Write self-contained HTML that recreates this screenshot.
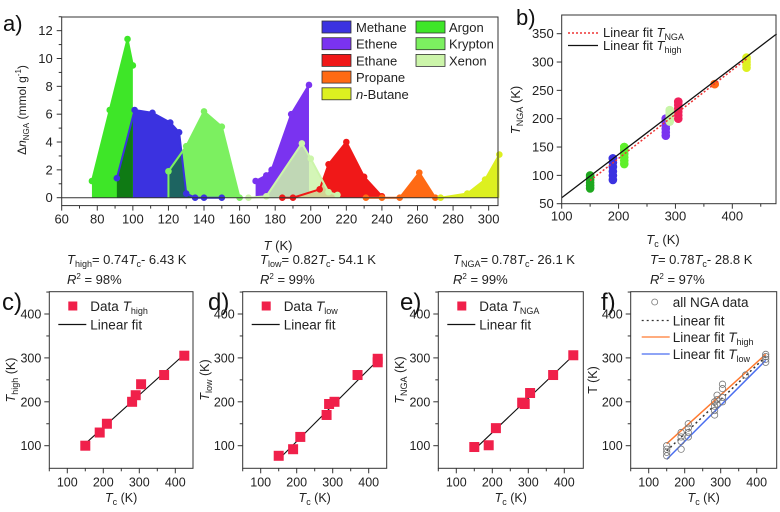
<!DOCTYPE html>
<html><head><meta charset="utf-8">
<style>
html,body{margin:0;padding:0;background:#fff;}
svg{display:block;font-family:"Liberation Sans",Arial,sans-serif;}
.tk{font-size:13px;fill:#222;}
.tks{font-size:12.5px;fill:#222;}
</style></head>
<body>
<svg id="fig" width="780" height="512" viewBox="0 0 780 512" xmlns="http://www.w3.org/2000/svg">
<defs id="defs"></defs>
<g id="pa"></g>
<g id="pb"></g>
<g id="pc"></g>
<g id="pd"></g>
<g id="pe"></g>
<g id="pf"></g>
</svg>
<script>
// ---------- Panel a data ----------
const gasNames = ["Methane","Ethene","Ethane","Propane","n-Butane","Argon","Krypton","Xenon"];
const gasColors = ["#3b32e0","#7a33f0","#f01818","#ff6a14","#ddf020","#3ee628","#7cf060","#ccf5aa"];
const argonT = [77,87,97,100];
const argonV = [1.2,6.3,11.4,9.5];
const methaneT = [91,101,111,121,126,130,135,140,150];
const methaneV = [1.4,6.3,6.1,5.4,4.7,0.3,0,0,0];
const kryptonT = [120,130,140,150,160];
const kryptonV = [1.9,3.7,6.2,5.1,0];
const etheneT = [169,175,178,189,199];
const etheneV = [1.2,1.6,2.0,6.0,8.1];
const xenonT = [165,175,195,200,210,215];
const xenonV = [0,0.1,3.9,2.8,0.4,0.2];
const ethaneT = [184,190,205,210,220,230,240];
const ethaneV = [0,0,0.6,2.4,4.0,1.5,0.1];
const propaneT = [231,240,250,261,270];
const propaneV = [0,0,0,1.8,0];
const butaneT = [273,288,298,306];
const butaneV = [0,0.3,1.3,3.1];
const aXTicks = [60,80,100,120,140,160,180,200,220,240,260,280,300];
const aYTicks = [0,2,4,6,8,10,12];

// ---------- Panel b data ----------
const bTc = [150,190,210,283,290,305,369,425];
const bLow = [77,92,120,170,195,200,261,290];
const bHigh = [100,130,150,200,215,230,261,308];
const bColors = ["#1fa81f","#3b32e0","#5ef02a","#7a33f0","#c8f5a8","#f0205a","#ff6a14","#ddf020"];
const bXTicks = [100,200,300,400];
const bYTicks = [50,100,150,200,250,300,350];

// ---------- Panels c-f data ----------
const cTc = [150,190,210,280,290,305,369,425];
const cVal = [100,130,150,200,215,240,261,305];
const dTc = [150,190,210,283,290,305,369,425,425];
const dVal = [77,92,120,170,195,200,261,290,298];
const eTc = [150,190,210,283,290,305,369,425];
const eVal = [97,101,140,198,195,220,261,306];
const fTc = [150,150,150,150,190,190,190,190,210,210,210,210,283,283,283,283,290,290,290,305,305,305,305,369,425,425,425,425];
const fVal = [77,85,92,100,92,110,120,130,120,130,140,150,170,180,190,200,195,205,215,200,210,230,240,261,290,297,303,308];
const smallTicks = [100,200,300,400];

const NS="http://www.w3.org/2000/svg";
function mk(parent,tag,attrs,text){
  const e=document.createElementNS(NS,tag);
  for(const k in attrs) e.setAttribute(k,attrs[k]);
  if(text!==undefined) e.textContent=text;
  parent.appendChild(e); return e;
}

// ================= PANEL A =================
(function(){
  const g=document.getElementById('pa');
  const defs=document.getElementById('defs');
  const L=61.7,R=498,T=17,B=205.6;
  const xs=t=>L+(t-60)*1.779;
  const ys=v=>197.7-v*13.92;
  const lab=mk(g,'text',{x:3,y:31,'font-size':22,fill:'#111'},'a)');
  
  
  const groups=[
    [methaneT,methaneV,0],[kryptonT,kryptonV,6],[argonT,argonV,5],
    [etheneT,etheneV,1],[ethaneT,ethaneV,2],[xenonT,xenonV,7],
    [propaneT,propaneV,3],[butaneT,butaneV,4]
  ];
  const ids=['methane','krypton','argon','ethene','ethane','xenon','propane','butane'];
  const polyPts=(tt,vv)=>`${xs(tt[0])},${ys(0)} `+tt.map((t,j)=>`${xs(t)},${ys(vv[j])}`).join(' ')+` ${xs(tt[tt.length-1])},${ys(0)}`;
  groups.forEach((s,i)=>{
    const [tt,vv,ci]=s;
    const p=mk(g,'polygon',{points:polyPts(tt,vv),fill:gasColors[ci],'fill-opacity':ids[i]==='xenon'?0.85:1});
    
    
  });
  // overlap regions
  const cp1=mk(defs,'clipPath',{id:'clipMethane'});
  mk(cp1,'polygon',{points:polyPts(methaneT,methaneV)});
  const cp2=mk(defs,'clipPath',{id:'clipKrypton'});
  mk(cp2,'polygon',{points:polyPts(kryptonT,kryptonV)});
  const o1=mk(g,'polygon',{points:polyPts(argonT,argonV),fill:'#0f7a14','clip-path':'url(#clipMethane)'});
  
  
  const o2=mk(g,'polygon',{points:polyPts(methaneT,methaneV),fill:'#1d6461','clip-path':'url(#clipKrypton)'});
  
  
  groups.forEach((s,i)=>{
    const [tt,vv,ci]=s;
    const ln=mk(g,'polyline',{points:tt.map((t,j)=>`${xs(t)},${ys(vv[j])}`).join(' '),fill:'none',stroke:gasColors[ci],'stroke-width':2});
    
    
    tt.forEach((t,j)=>{
      const c=mk(g,'circle',{cx:xs(t),cy:ys(vv[j]),r:3.3,fill:gasColors[ci]});
      
      
    });
  });
  mk(g,'line',{x1:xs(120),x2:xs(120),y1:ys(0),y2:ys(1.9),stroke:gasColors[6],'stroke-width':2});
  mk(g,'line',{x1:L,x2:R,y1:ys(0),y2:ys(0),stroke:'#333','stroke-width':1});
  const fr=mk(g,'rect',{x:L,y:T,width:R-L,height:B-T,fill:'none',stroke:'#333','stroke-width':1});
  
  
  aXTicks.forEach(t=>{
    mk(g,'line',{x1:xs(t),x2:xs(t),y1:B,y2:B+5,stroke:'#333'});
    if(xs(t+10)<R) mk(g,'line',{x1:xs(t+10),x2:xs(t+10),y1:B,y2:B+3,stroke:'#333'});
    const tx=mk(g,'text',{x:xs(t),y:B+18,'text-anchor':'middle',class:'tk'},t);
    
    
  });
  aYTicks.forEach(v=>{
    mk(g,'line',{x1:L-5,x2:L,y1:ys(v),y2:ys(v),stroke:'#333'});
    mk(g,'line',{x1:L-3,x2:L,y1:ys(v+1),y2:ys(v+1),stroke:'#333'});
    const tx=mk(g,'text',{x:L-9,y:ys(v)+4.5,'text-anchor':'end',class:'tk'},v);
    
    
  });
  const xt=mk(g,'text',{x:278,y:250,'text-anchor':'middle',class:'tk'});
  xt.innerHTML='<tspan font-style="italic">T</tspan> (K)';
  
  
  const yt=mk(g,'text',{transform:'translate(26,110) rotate(-90)','text-anchor':'middle','font-size':12,fill:'#222'});
  yt.innerHTML='Δ<tspan font-style="italic">n</tspan><tspan font-size="8" dy="3">NGA</tspan><tspan dy="-3"> (mmol g</tspan><tspan font-size="8" dy="-5">-1</tspan><tspan dy="5">)</tspan>';
  
  
  const legOrder=[[0,322,356,0],[1,322,356,1],[2,322,356,2],[3,322,356,3],[4,322,356,4],[5,416,449,0],[6,416,449,1],[7,416,449,2]];
  legOrder.forEach(o=>{
    const [ci,bx,tx0,row]=o;
    const y=21+row*16.7;
    const r=mk(g,'rect',{x:bx,y:y,width:29,height:12,fill:gasColors[ci],stroke:'#333','stroke-width':0.8});
    
    
    const t=mk(g,'text',{x:tx0,y:y+11,class:'tk'});
    if(gasNames[ci]==='n-Butane') t.innerHTML='<tspan font-style="italic">n</tspan>-Butane'; else t.textContent=gasNames[ci];
    
    
  });
})();

// ================= PANEL B =================
(function(){
  const g=document.getElementById('pb');
  const L=561.7,R=776,T=15,B=203.7;
  const xs=t=>L+(t-100)*0.5687;
  const ys=v=>B-(v-50)*0.5667;
  const lab=mk(g,'text',{x:516,y:25,'font-size':22,fill:'#111'},'b)');
  
  
  bTc.forEach((tc,i)=>{
    for(let v=bLow[i]; v<=bHigh[i]+0.1; v+=Math.max(5,(bHigh[i]-bLow[i])/5||5)){
      const c=mk(g,'circle',{cx:xs(tc),cy:ys(v),r:4.3,fill:bColors[i]});
      
      
    }
    const c2=mk(g,'circle',{cx:xs(tc),cy:ys(bHigh[i]),r:4.3,fill:bColors[i]});
    
    
  });
  const fitH=t=>0.765*t-16;
  const l1=mk(g,'line',{x1:xs(100),y1:ys(fitH(100)),x2:xs(478),y2:ys(fitH(478)),stroke:'#111','stroke-width':1.3});
  
  
  const fitN=t=>0.78*t-26.1;
  const l2=mk(g,'line',{x1:xs(150),y1:ys(fitN(150)),x2:xs(425),y2:ys(fitN(425)),stroke:'#ee3333','stroke-width':1.5,'stroke-dasharray':'2,2'});
  
  
  const fr=mk(g,'rect',{x:L,y:T,width:R-L,height:B-T,fill:'none',stroke:'#333'});
  
  
  bXTicks.forEach(t=>{
    mk(g,'line',{x1:xs(t),x2:xs(t),y1:B,y2:B+5,stroke:'#333'});
    mk(g,'line',{x1:xs(t+50),x2:xs(t+50),y1:B,y2:B+3,stroke:'#333'});
    const tx=mk(g,'text',{x:xs(t),y:B+17,'text-anchor':'middle',class:'tk'},t);
    
    
  });
  bYTicks.forEach(v=>{
    mk(g,'line',{x1:L-5,x2:L,y1:ys(v),y2:ys(v),stroke:'#333'});
    const tx=mk(g,'text',{x:L-8,y:ys(v)+4.5,'text-anchor':'end',class:'tk'},v);
    
    
  });
  const xt=mk(g,'text',{x:663,y:244,'text-anchor':'middle',class:'tk'});
  xt.innerHTML='<tspan font-style="italic">T</tspan><tspan font-size="9" dy="3">c</tspan><tspan dy="-3"> (K)</tspan>';
  
  
  const yt=mk(g,'text',{transform:'translate(520,110) rotate(-90)','text-anchor':'middle',class:'tk'});
  yt.innerHTML='<tspan font-style="italic">T</tspan><tspan font-size="9" dy="3">NGA</tspan><tspan dy="-3"> (K)</tspan>';
  
  
  mk(g,'line',{x1:568,x2:598,y1:33,y2:33,stroke:'#ee3333','stroke-width':1.5,'stroke-dasharray':'2,2'});
  const t1=mk(g,'text',{x:603,y:37,class:'tk'});
  t1.innerHTML='Linear fit <tspan font-style="italic">T</tspan><tspan font-size="9" dy="3">NGA</tspan>';
  
  
  mk(g,'line',{x1:568,x2:598,y1:45.5,y2:45.5,stroke:'#111','stroke-width':1.3});
  const t2=mk(g,'text',{x:603,y:50,class:'tk'});
  t2.innerHTML='Linear fit <tspan font-style="italic">T</tspan><tspan font-size="9" dy="3">high</tspan>';
  
  
})();

// ================= PANELS C-F =================
function smallPanel(id,L,R,letter,letterX,eqX,eqHTML,r2,ylabHTML,ylabX,tcArr,valArr,fits,legend,circles){
  const g=document.getElementById(id);
  const T=291.7,B=468.3;
  const xs=t=>L+(t-50)*0.36;
  const ys=v=>445.7-(v-100)*0.439;
  const eq=mk(g,'text',{x:eqX,y:264,'font-size':13,fill:'#222'});
  eq.innerHTML=eqHTML;
  
  
  const r=mk(g,'text',{x:eqX,y:284,'font-size':13,fill:'#222'});
  r.innerHTML='<tspan font-style="italic">R</tspan><tspan font-size="8" dy="-5">2</tspan><tspan dy="5"> = '+r2+'</tspan>';
  
  
  const lb=mk(g,'text',{x:letterX,y:310,'font-size':24,fill:'#111'},letter+')');
  
  
  fits.forEach(f=>{
    const l=mk(g,'line',{x1:xs(150),y1:ys(f.a*150+f.b),x2:xs(425),y2:ys(f.a*425+f.b),stroke:f.c,'stroke-width':f.w||1.1,'stroke-dasharray':f.d||'none'});
    
    
  });
  tcArr.forEach((t,i)=>{
    if(circles){
      const c=mk(g,'circle',{cx:xs(t),cy:ys(valArr[i]),r:3.2,fill:'none',stroke:'#777','stroke-width':0.8});
      
      
    } else {
      const c=mk(g,'rect',{x:xs(t)-5,y:ys(valArr[i])-5,width:10,height:10,fill:'#f0204a'});
      
      
    }
  });
  const fr=mk(g,'rect',{x:L,y:T,width:R-L,height:B-T,fill:'none',stroke:'#333'});
  
  
  smallTicks.forEach(t=>{
    mk(g,'line',{x1:xs(t),x2:xs(t),y1:B,y2:B+5,stroke:'#333'});
    mk(g,'line',{x1:xs(t-50),x2:xs(t-50),y1:B,y2:B+3,stroke:'#333'});
    const tx=mk(g,'text',{x:xs(t),y:B+18,'text-anchor':'middle',class:'tks'},t);
    
    
    mk(g,'line',{x1:L-5,x2:L,y1:ys(t),y2:ys(t),stroke:'#333'});
    mk(g,'line',{x1:L-3,x2:L,y1:ys(t+50),y2:ys(t+50),stroke:'#333'});
    const ty=mk(g,'text',{x:L-8,y:ys(t)+4.5,'text-anchor':'end',class:'tks'},t);
    
    
  });
  const xt=mk(g,'text',{x:(L+R)/2,y:502,'text-anchor':'middle',class:'tks'});
  xt.innerHTML='<tspan font-style="italic">T</tspan><tspan font-size="9" dy="3">c</tspan><tspan dy="-3"> (K)</tspan>';
  
  
  const yt=mk(g,'text',{transform:`translate(${ylabX},380) rotate(-90)`,'text-anchor':'middle',class:'tks'});
  yt.innerHTML=ylabHTML;
  
  
  legend.forEach((it,i)=>{
    const y=[306,324.5,341,358][i]+(circles?-4:0);
    const lx0=L+(circles?11:9);
    if(it.type==='sq'){ mk(g,'rect',{x:L+19,y:y-4.5,width:9,height:9,fill:'#f0204a'}); }
    else if(it.type==='circ'){ mk(g,'circle',{cx:L+24,cy:y,r:3,fill:'none',stroke:'#777','stroke-width':0.8}); }
    else { mk(g,'line',{x1:lx0,x2:lx0+28,y1:y,y2:y,stroke:it.c,'stroke-width':1.3,'stroke-dasharray':it.d||'none'}); }
    const tx=mk(g,'text',{x:L+(circles?42:41),y:y+5,'font-size':13.5,fill:'#222'});
    tx.innerHTML=it.t;
    
    
  });
}
const TS=(s)=>'<tspan font-style="italic">T</tspan><tspan font-size="9" dy="3">'+s+'</tspan><tspan dy="-3">';
smallPanel('pc',49.3,193,'c',2,67,TS('high')+'= 0.74</tspan><tspan font-style="italic">T</tspan><tspan font-size="9" dy="3">c</tspan><tspan dy="-3">- 6.43 K</tspan>','98%',TS('high')+' (K)</tspan>',15,cTc,cVal,[{a:0.74,b:-6.43,c:'#111'}],[{type:'sq',t:'Data <tspan font-style="italic">T</tspan><tspan font-size="9" dy="3">high</tspan>'},{type:'line',c:'#111',t:'Linear fit'}],false);
smallPanel('pd',242.7,386.7,'d',208,260,TS('low')+'= 0.82</tspan><tspan font-style="italic">T</tspan><tspan font-size="9" dy="3">c</tspan><tspan dy="-3">- 54.1 K</tspan>','99%',TS('low')+' (K)</tspan>',209,dTc,dVal,[{a:0.82,b:-54.1,c:'#111'}],[{type:'sq',t:'Data <tspan font-style="italic">T</tspan><tspan font-size="9" dy="3">low</tspan>'},{type:'line',c:'#111',t:'Linear fit'}],false);
smallPanel('pe',438.3,583.3,'e',400,453,TS('NGA')+'= 0.78</tspan><tspan font-style="italic">T</tspan><tspan font-size="9" dy="3">c</tspan><tspan dy="-3">- 26.1 K</tspan>','99%',TS('NGA')+' (K)</tspan>',404,eTc,eVal,[{a:0.78,b:-26.1,c:'#111'}],[{type:'sq',t:'Data <tspan font-style="italic">T</tspan><tspan font-size="9" dy="3">NGA</tspan>'},{type:'line',c:'#111',t:'Linear fit'}],false);
smallPanel('pf',630.7,776.7,'f',601,650,'<tspan font-style="italic">T</tspan><tspan>= 0.78</tspan><tspan font-style="italic">T</tspan><tspan font-size="9" dy="3">c</tspan><tspan dy="-3">- 28.8 K</tspan>','97%','<tspan>T (K)</tspan>',597,fTc,fVal,[{a:0.74,b:-6.43,c:'#ff7a30',w:1.5},{a:0.82,b:-54.1,c:'#4a6ef0',w:1.5},{a:0.78,b:-28.8,c:'#333',d:'2,3',w:1.5}],[{type:'circ',t:'all NGA data'},{type:'line',c:'#333',d:'2,3',t:'Linear fit'},{type:'line',c:'#ff7a30',t:'Linear fit <tspan font-style="italic">T</tspan><tspan font-size="9" dy="3">high</tspan>'},{type:'line',c:'#4a6ef0',t:'Linear fit <tspan font-style="italic">T</tspan><tspan font-size="9" dy="3">low</tspan>'}],true);
</script>
</body></html>
